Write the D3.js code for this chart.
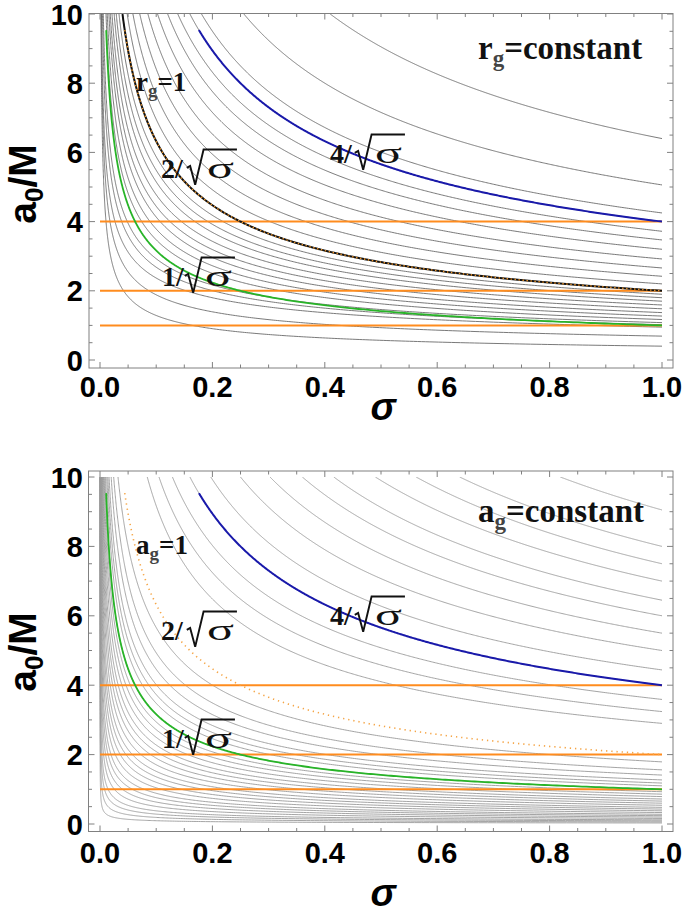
<!DOCTYPE html>
<html><head><meta charset="utf-8">
<script src="https://cdn.jsdelivr.net/npm/d3@7"></script>
<style>body{margin:0;background:#fff}</style>
</head><body>
<svg id="c" width="685" height="916" xmlns="http://www.w3.org/2000/svg"></svg>
<script>
// ---------------- data ----------------
const sigmaTicks = [0, 0.2, 0.4, 0.6, 0.8, 1.0];
const sigmaTickLabels = ["0.0", "0.2", "0.4", "0.6", "0.8", "1.0"];
const a0Ticks = [0, 2, 4, 6, 8, 10];
const a0TickLabels = ["0", "2", "4", "6", "8", "10"];
// r_g = constant contours: a0 read at sigma = 1, and sigma where the contour crosses a0 = 4
// (null: contour follows c/sqrt(sigma))
const rgEndValues   = [0.40, 0.69, 0.95, 1.02, 1.08, 1.17, 1.27, 1.37, 1.48, 1.59, 1.70, 1.80, 1.90,
                       2.0, 2.2, 2.42, 2.66, 2.92, 3.2, 3.47, 3.72, 4.0, 4.25, 5.06, 6.4];
const rgSigmaAtFour = [0.0107, 0.0178, 0.0267, 0.0386, 0.0486, 0.0742, 0.089, 0.107, 0.1246, 0.145, 0.169, 0.192, 0.219,
                       null, null, null, null, null, null, null, null, null, null, null, null];
// a_g = constant contours: a0 read at sigma = 1 (contours follow c/sqrt(sigma))
const agEndValues = [0.03, 0.06, 0.09, 0.12, 0.16, 0.2, 0.24, 0.28, 0.33, 0.38, 0.43, 0.48, 0.54, 0.6, 0.66,
                     0.72, 0.79, 0.86, 0.93, 1.0, 1.1, 1.18, 1.27, 1.41, 1.56, 1.79,
                     2.9, 3.24, 3.59, 4.0, 4.44, 5.0, 5.5, 6.0, 6.45, 7.0, 7.5, 8.0, 9.05];
const horizontalLevels = [1, 2, 4];
const guideCoefficients = [1, 2, 4];          // k/sqrt(sigma)
const guideStartSigma = [0.011, 0.044, 0.176];
const guideLabels = ["1", "2", "4"];

// ---------------- layout ----------------
const svg = d3.select("#c");
const x = d3.scaleLinear().domain([0, 1]).range([100, 662]);
const rgCurves = rgEndValues.map((v, i) => ({v, p: rgSigmaAtFour[i] == null ? 0.5 : Math.log(4 / v) / Math.log(1 / rgSigmaAtFour[i])}));
const agCurves = agEndValues.map(v => ({v, p: 0.5}));
const panels = [
  {y: d3.scaleLinear().domain([0, 10]).range([360, 14]), frameTop: 13.5, frameBottom: 368, frameLeft: 89, frameRight: 673,
   curves: rgCurves, gray: "#6a6a6a", kind: "r", tickBase: 397, sigmaBase: 420, ylabC: 184,
   lab: {eq: [136, 91], two: [161, 178], one: [162, 286], four: [330, 163], title: [478, 59]}},
  {y: d3.scaleLinear().domain([0, 10]).range([824, 477]), frameTop: 471, frameBottom: 831.5, frameLeft: 88.5, frameRight: 673,
   curves: agCurves, gray: "#9a9a9a", kind: "a", tickBase: 863, sigmaBase: 906, ylabC: 652,
   lab: {eq: [136, 554], two: [161, 640], one: [162, 748], four: [330, 625], title: [478, 522]}}
];
const orange = "rgb(255,140,30)";
const green = "rgb(40,180,40)";
const blue = "rgb(25,25,170)";

// points of a0 = v * sigma^(-p), from a0 = 10 (or sigma = sStart) to sigma = 1
function curvePoints(v, p, sStart) {
  const sMin = sStart != null ? sStart : Math.pow(v / 10, 1 / p);
  const pts = [];
  const N = 500;
  for (let i = 0; i <= N; i++) {
    const s = sMin * Math.pow(1 / sMin, i / N);
    pts.push([s, v * Math.pow(s, -p)]);
  }
  return pts;
}

panels.forEach((p, pi) => {
  const g = svg.append("g");
  const y = p.y;
  const line = d3.line().x(d => x(d[0])).y(d => y(d[1]));
  const clipId = "clip" + pi;
  svg.append("clipPath").attr("id", clipId).append("rect")
    .attr("x", x(0) - 2).attr("y", y(10)).attr("width", x(1) - x(0) + 4).attr("height", y(0) - y(10) + 6);
  const plot = g.append("g").attr("clip-path", `url(#${clipId})`);

  // gray contours
  plot.selectAll("path.ct").data(p.curves).join("path").attr("class", "ct")
    .attr("d", c => line(curvePoints(c.v, c.p)))
    .attr("fill", "none").attr("stroke", p.gray).attr("stroke-width", 0.9);

  // horizontal orange lines
  plot.selectAll("line.h").data(horizontalLevels).join("line").attr("class", "h")
    .attr("x1", x(0)).attr("x2", x(1)).attr("y1", d => y(d)).attr("y2", d => y(d))
    .attr("stroke", orange).attr("stroke-width", 2);

  // 1/sqrt(sigma)
  plot.append("path").attr("d", line(curvePoints(guideCoefficients[0], 0.5, guideStartSigma[0])))
    .attr("fill", "none").attr("stroke", green).attr("stroke-width", 1.8);
  // 2/sqrt(sigma)
  if (p.kind === "r") {
    plot.append("path").attr("d", line(curvePoints(guideCoefficients[1], 0.5)))
      .attr("fill", "none").attr("stroke", "#111").attr("stroke-width", 2);
    plot.append("path").attr("d", line(curvePoints(guideCoefficients[1], 0.5, guideStartSigma[1])))
      .attr("fill", "none").attr("stroke", "rgb(240,150,40)").attr("stroke-width", 1.4)
      .attr("stroke-dasharray", "1.4 2.6");
  } else {
    plot.append("path").attr("d", line(curvePoints(guideCoefficients[1], 0.5, guideStartSigma[1])))
      .attr("fill", "none").attr("stroke", "rgb(245,165,70)").attr("stroke-width", 1.6)
      .attr("stroke-dasharray", "1.3 3.9");
  }
  // 4/sqrt(sigma)
  plot.append("path").attr("d", line(curvePoints(guideCoefficients[2], 0.5, guideStartSigma[2])))
    .attr("fill", "none").attr("stroke", blue).attr("stroke-width", 2);

  // frame
  g.append("rect").attr("x", p.frameLeft).attr("y", p.frameTop)
    .attr("width", p.frameRight - p.frameLeft).attr("height", p.frameBottom - p.frameTop)
    .attr("fill", "none").attr("stroke", "#808080").attr("stroke-width", 1);

  // ticks (inward, all four sides)
  const tk = g.append("g").attr("stroke", "#808080").attr("stroke-width", 1);
  d3.range(0, 1.0001, 0.05).forEach(v => {
    const major = sigmaTicks.some(t => Math.abs(t - v) < 1e-6);
    const L = major ? 6 : 3.5;
    tk.append("line").attr("x1", x(v)).attr("x2", x(v)).attr("y1", p.frameBottom).attr("y2", p.frameBottom - L);
    tk.append("line").attr("x1", x(v)).attr("x2", x(v)).attr("y1", p.frameTop).attr("y2", p.frameTop + L);
  });
  d3.range(0, 10.0001, 0.5).forEach(v => {
    const major = a0Ticks.some(t => Math.abs(t - v) < 1e-6);
    const L = major ? 6 : 3.5;
    tk.append("line").attr("y1", y(v)).attr("y2", y(v)).attr("x1", p.frameLeft).attr("x2", p.frameLeft + L);
    tk.append("line").attr("y1", y(v)).attr("y2", y(v)).attr("x1", p.frameRight).attr("x2", p.frameRight - L);
  });

  // tick labels
  const tf = "'Liberation Sans', Arial, sans-serif";
  g.selectAll("text.xt").data(sigmaTicks).join("text").attr("class", "xt")
    .attr("x", d => x(d)).attr("y", p.tickBase).attr("text-anchor", "middle")
    .attr("font-family", tf).attr("font-weight", "bold").attr("font-size", 29)
    .text((d, i) => sigmaTickLabels[i]);
  g.selectAll("text.yt").data(a0Ticks).join("text").attr("class", "yt")
    .attr("x", 83).attr("y", d => y(d) + 10.5).attr("text-anchor", "end")
    .attr("font-family", tf).attr("font-weight", "bold").attr("font-size", 29)
    .text((d, i) => a0TickLabels[i]);

  // axis titles
  g.append("text").attr("x", 383).attr("y", p.sigmaBase).attr("text-anchor", "middle")
    .attr("font-family", tf).attr("font-weight", "bold").attr("font-style", "italic").attr("font-size", 38)
    .text("σ");
  const yl = g.append("text").attr("transform", `translate(36,${p.ylabC}) rotate(-90)`)
    .attr("text-anchor", "middle").attr("font-family", tf).attr("font-weight", "bold").attr("font-size", 39);
  yl.append("tspan").text("a");
  yl.append("tspan").attr("font-size", 26).attr("dy", 7).text("0");
  yl.append("tspan").attr("dy", -7).text("/M");

  // annotations (serif bold)
  const sf = "'Liberation Serif', 'Times New Roman', serif";
  const eq = g.append("text").attr("x", p.lab.eq[0]).attr("y", p.lab.eq[1])
    .attr("font-family", sf).attr("font-weight", "bold").attr("font-size", 27).attr("fill", "#111");
  eq.append("tspan").text(p.kind);
  eq.append("tspan").attr("font-size", 19).attr("dy", 6).attr("fill", "#444").text("g");
  eq.append("tspan").attr("dy", -6).text("=1");

  const tt = g.append("text").attr("x", p.lab.title[0]).attr("y", p.lab.title[1])
    .attr("font-family", sf).attr("font-weight", "bold").attr("font-size", 33).attr("fill", "#111");
  tt.append("tspan").text(p.kind);
  tt.append("tspan").attr("font-size", 23).attr("dy", 7).attr("fill", "#444").text("g");
  tt.append("tspan").attr("dy", -7).text("=constant");

  function sqrtLabel(num, pos, gap) {
    const size = 28;
    const t = g.append("text").attr("x", pos[0]).attr("y", pos[1])
      .attr("font-family", sf).attr("font-weight", "bold").attr("font-size", size).attr("fill", "#111")
      .text(num + "/");
    const w = t.node().getComputedTextLength();
    const rx = pos[0] + w + gap;
    const b = pos[1];
    const topY = b - 1.02 * size;
    const sx = rx + 0.72 * size;
    const sw = 27;
    g.append("text").attr("x", sx).attr("y", b)
      .attr("font-family", sf).attr("font-size", size + 2).attr("fill", "#111")
      .attr("textLength", sw).attr("lengthAdjust", "spacingAndGlyphs").text("σ");
    g.append("path")
      .attr("d", `M${rx},${b - 0.36 * size} L${rx + 0.12 * size},${b - 0.43 * size} L${rx + 0.3 * size},${b + 0.24 * size} L${rx + 0.6 * size},${topY} L${sx + sw + 3},${topY}`)
      .attr("fill", "none").attr("stroke", "#111").attr("stroke-width", 1.9).attr("stroke-linejoin", "miter");
  }
  sqrtLabel(guideLabels[1], p.lab.two, 4);
  sqrtLabel(guideLabels[0], p.lab.one, 1);
  sqrtLabel(guideLabels[2], p.lab.four, 3);
});
</script>
</body></html>
